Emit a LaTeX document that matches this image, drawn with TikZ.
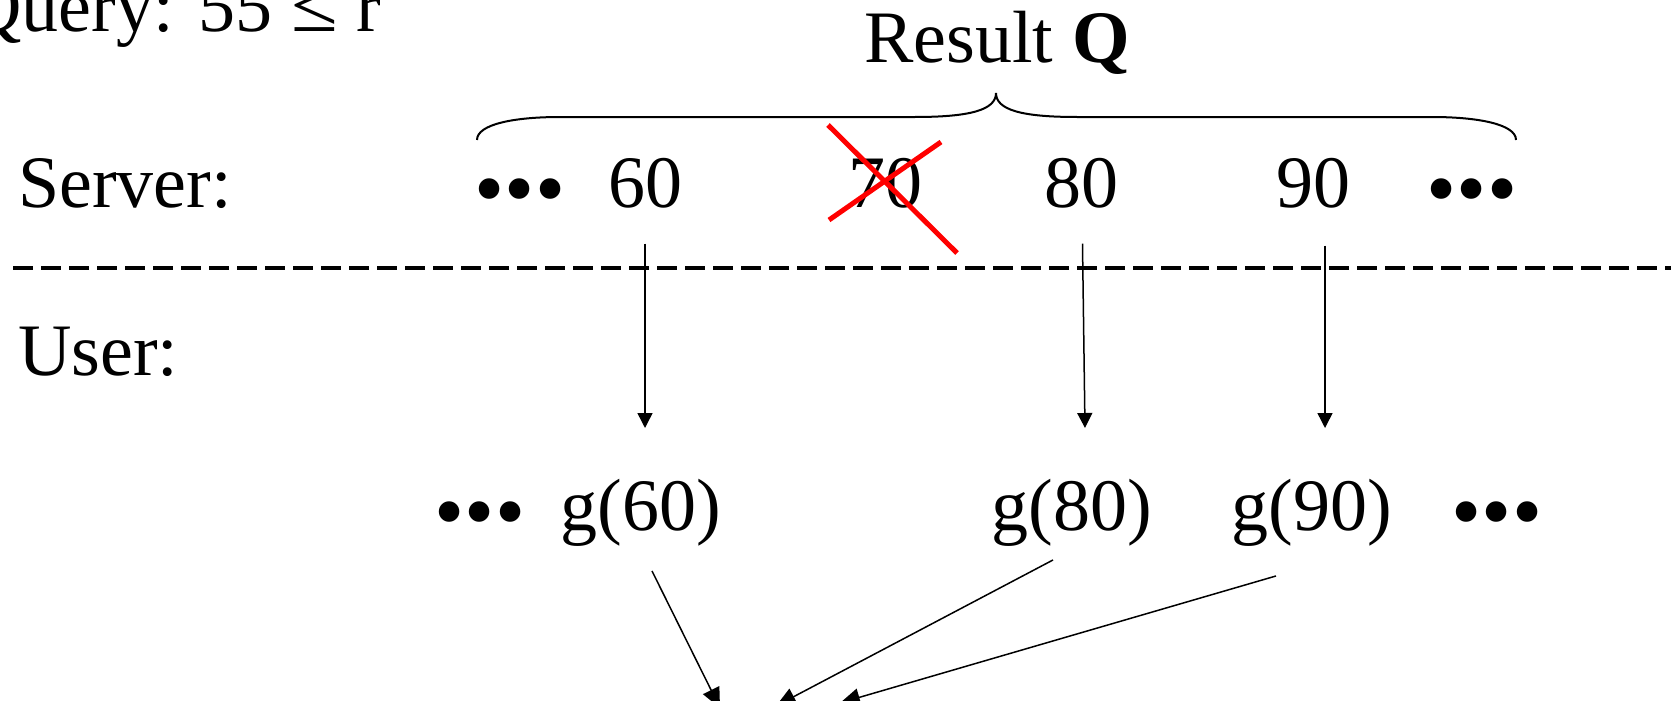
\documentclass[tikz,border=0pt]{standalone}
\usepackage{fontspec}
\setmainfont{Liberation Serif}
\usetikzlibrary{arrows.meta}
\tikzset{
  txt/.style={inner sep=0pt, outer sep=0pt, font=\fontsize{74}{80}\selectfont},
  dots/.style={inner sep=0pt, outer sep=0pt, font=\fontsize{86}{90}\selectfont},
  arr/.style={line width=1.5pt, -{Triangle[width=15pt,length=15pt]}},
  arrb/.style={line width=1.5pt, -{Triangle[width=18pt,length=20pt]}},
  cross/.style={red, line width=5pt},
  sep/.style={line width=3.5pt, dash pattern=on 20pt off 8pt},
  brace/.style={line width=2pt}
}
\begin{document}
\begin{tikzpicture}[x=1pt,y=1pt]
\useasboundingbox (0,0) rectangle (1671,-701);
\clip (0,0) rectangle (1671,-701);
% texts
\node[txt, anchor=base east] (query) at (381,-32) {Query: 55 \scalebox{1.15}[1.05]{≤} r};
\node[txt, anchor=base] (result) at (997,-63) {Result \textbf{Q}};
\node[txt, anchor=base west] (server) at (18,-207) {Server:};
\node[txt, anchor=base west] (user) at (18,-375) {User:};
% server row
\node[dots, anchor=base] (dotsL) at (520,-217) {•••};
\node[txt, anchor=base] (n60) at (645,-207) {60};
\node[txt, anchor=base] (n70) at (885,-207) {70};
\node[txt, anchor=base] (n80) at (1081,-207) {80};
\node[txt, anchor=base] (n90) at (1313,-207) {90};
\node[dots, anchor=base] (dotsR) at (1472,-217) {•••};
% user row
\node[dots, anchor=base] (dotsL2) at (480,-540) {•••};
\node[txt, anchor=base] (g60) at (641,-530) {g(60)};
\node[txt, anchor=base] (g80) at (1072,-530) {g(80)};
\node[txt, anchor=base] (g90) at (1312,-530) {g(90)};
\node[dots, anchor=base] (dotsR2) at (1497,-540) {•••};
% targets below the frame
\coordinate (t1) at (720,-708);
\coordinate (t2) at (776,-706);
\coordinate (t3) at (840,-703);
% brace
\draw[brace] (477,-140) .. controls (477,-124) and (515,-117) .. (560,-117)
  -- (915,-117) .. controls (970,-117) and (996,-110) .. (996,-93)
  .. controls (996,-110) and (1022,-117) .. (1077,-117)
  -- (1432,-117) .. controls (1477,-117) and (1516,-124) .. (1516,-140);
% cross over 70
\draw[cross] (828,-125) -- (957,-253);
\draw[cross] (829,-220) -- (941,-142);
% separator
\draw[sep] (13,-268) -- (1671,-268);
% server -> user arrows
\draw[arr, shorten <=36pt] (n60.south) -- (n60.south |- 0,-428);
\draw[arr, shorten <=36pt] ([xshift=1pt]n80.south) -- ([xshift=4pt]n80.south |- 0,-428);
\draw[arr, shorten <=38pt] ([xshift=12pt]n90.south) -- ([xshift=12pt]n90.south |- 0,-428);
% user -> below arrows
\draw[arrb] ([shift={(11pt,-25pt)}]g60.south) -- (t1);
\draw[arrb] ([shift={(-19pt,-14pt)}]g80.south) -- (t2);
\draw[arrb] ([shift={(-36pt,-30pt)}]g90.south) -- (t3);
\end{tikzpicture}
\end{document}
